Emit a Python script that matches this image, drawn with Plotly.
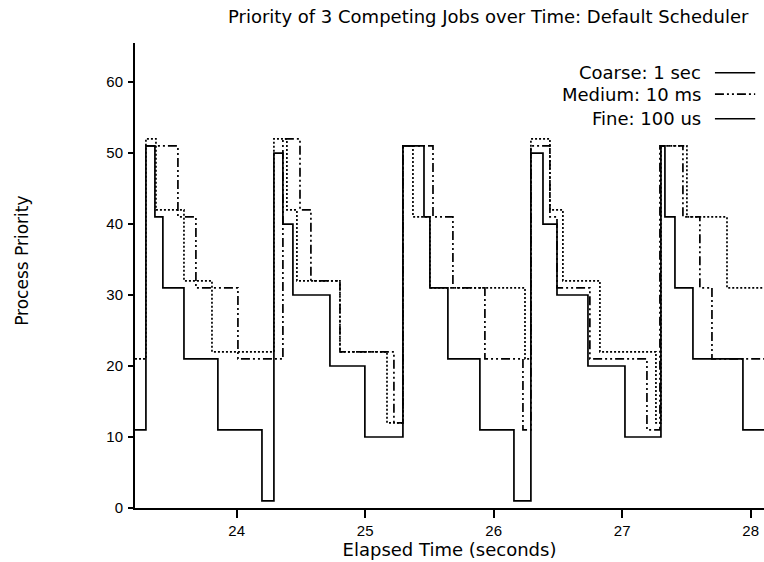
import plotly.graph_objects as go

# Time (seconds) at which each priority level starts; last point closes the final step
coarse_t = [23.209, 23.294, 23.364, 23.426, 23.590, 23.854, 24.197,
            24.290, 24.360, 24.438, 24.726, 24.998,
            25.294, 25.458, 25.504, 25.644, 25.893, 26.158,
            26.290, 26.384, 26.493, 26.734, 27.022,
            27.302, 27.333, 27.411, 27.551, 27.940, 28.2]
coarse_p = [11, 51, 41, 31, 21, 11, 1,
            50, 40, 30, 20, 10,
            51, 41, 31, 21, 11, 1,
            50, 40, 30, 20, 10,
            51, 41, 31, 21, 11, 11]

medium_t = [23.294, 23.543, 23.683, 24.010,
            24.360, 24.493, 24.578, 24.804, 25.224,
            25.294, 25.528, 25.683, 25.932, 26.228,
            26.290, 26.438, 26.493, 26.749, 27.193,
            27.294, 27.473, 27.605, 27.699, 28.2]
medium_p = [51, 41, 31, 21,
            52, 42, 32, 22, 12,
            51, 41, 31, 21, 11,
            51, 41, 31, 21, 11,
            51, 41, 31, 21, 21]

fine_t = [23.209, 23.294, 23.372, 23.590, 23.808,
          24.290, 24.391, 24.469, 24.804, 25.170,
          25.294, 25.372, 25.504, 26.244,
          26.290, 26.438, 26.539, 26.827, 27.263,
          27.302, 27.504, 27.816, 28.2]
fine_p = [21, 52, 42, 32, 22,
          52, 42, 32, 22, 12,
          51, 41, 31, 21,
          52, 42, 32, 22, 12,
          51, 41, 31, 31]

series_names = ["Coarse: 1 sec", "Medium: 10 ms", "Fine: 100 us"]
x_ticks = [24, 25, 26, 27, 28]
y_ticks = [0, 10, 20, 30, 40, 50, 60]

FONT = "DejaVu Sans"
TICKFONT = "Liberation Sans"
DASHDOT = "9px,3px,2px,3px,2px,3px"

fig = go.Figure()
fig.add_trace(go.Scatter(x=coarse_t, y=coarse_p, mode="lines", line_shape="hv",
                         name=series_names[0], line=dict(color="black", width=1.7)))
fig.add_trace(go.Scatter(x=medium_t, y=medium_p, mode="lines", line_shape="hv",
                         name=series_names[1], line=dict(color="black", width=1.7, dash=DASHDOT)))
fig.add_trace(go.Scatter(x=fine_t, y=fine_p, mode="lines", line_shape="hv",
                         name=series_names[2], line=dict(color="black", width=1.7, dash="2px,2px")))

# hand-drawn legend matching the reference layout
legend_y = [0.936, 0.890, 0.837]
legend_dash = ["solid", DASHDOT, "solid"]
for name, yy, dsh in zip(series_names, legend_y, legend_dash):
    fig.add_annotation(xref="paper", yref="paper", x=0.903, y=yy, text=name,
                       showarrow=False, xanchor="right", yanchor="middle",
                       font=dict(family=FONT, size=18, color="black"))
    fig.add_shape(type="line", xref="paper", yref="paper", x0=0.922, x1=0.986,
                  y0=yy, y1=yy, line=dict(color="black", width=1.6, dash=dsh))

# y-axis title, placed as in the reference (slightly above the plot centre)
fig.add_annotation(xref="paper", yref="paper", x=-0.18, y=0.531, text="Process Priority",
                   textangle=-90, showarrow=False, xanchor="center", yanchor="middle",
                   font=dict(family=FONT, size=17, color="black"))

fig.update_layout(
    width=764, height=562,
    margin=dict(l=135, r=0, t=43, b=54),
    paper_bgcolor="white", plot_bgcolor="white",
    showlegend=False,
    font=dict(family=FONT, size=16, color="black"),
    title=dict(text="Priority of 3 Competing Jobs over Time: Default Scheduler",
               x=0.639, xref="container", xanchor="center",
               y=0.97, yref="container", yanchor="middle",
               font=dict(family=FONT, size=18, color="black")),
)
fig.update_xaxes(range=[23.209, 28.104], tickvals=x_ticks, ticktext=[str(v) for v in x_ticks],
                 showgrid=False, zeroline=False, showline=True, linecolor="black", linewidth=2,
                 ticks="outside", ticklen=8, tickwidth=1.5, tickcolor="black",
                 tickfont=dict(family=TICKFONT, size=15),
                 title=dict(text="Elapsed Time (seconds)", standoff=0,
                            font=dict(family=FONT, size=18)))
fig.update_yaxes(range=[0, 65.5], tickvals=y_ticks,
                 showgrid=False, zeroline=False, showline=True, linecolor="black", linewidth=2,
                 ticks="outside", ticklen=5, tickwidth=1.5, tickcolor="black",
                 ticklabelstandoff=2,
                 tickfont=dict(family=TICKFONT, size=15))

fig.write_html("out.html", config={"displayModeBar": False},
               post_script="document.body.style.margin='0';document.body.style.overflow='hidden';")
